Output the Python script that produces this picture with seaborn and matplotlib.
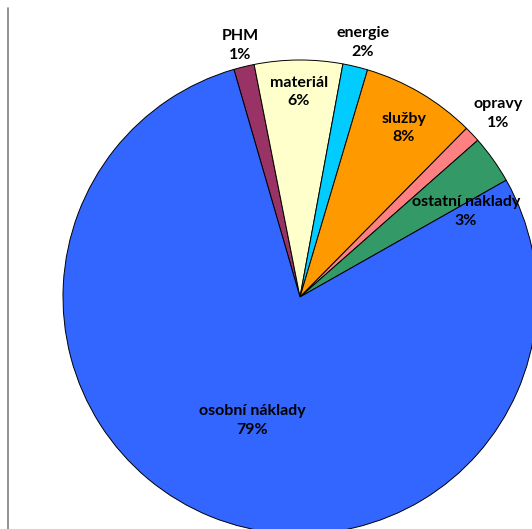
import numpy as np
import seaborn as sns
import matplotlib.pyplot as plt
from matplotlib.lines import Line2D

# cost structure - shares in percent, clockwise from PHM
categories = ["PHM", "materiál", "energie", "služby", "opravy", "ostatní náklady", "osobní náklady"]
shares = [1.4, 6.0, 1.7, 7.8, 1.1, 3.3, 78.7]
pct_labels = ["1%", "6%", "2%", "8%", "1%", "3%", "79%"]
colors = ["#993366", "#FFFFCC", "#00CCFF", "#FF9900", "#FF8080", "#339966", "#3366FF"]

# where each label sits, in pie radius units
label_pos = [(-0.253, 1.063), (-0.004, 0.865), (0.266, 1.072), (0.439, 0.713),
             (0.835, 0.776), (0.700, 0.359), (-0.203, -0.523)]

sns.set_theme(style="white")
plt.rcParams["font.family"] = ["Lato", "DejaVu Sans"]

W, H = 532, 529
fig = plt.figure(figsize=(W / 100, H / 100), dpi=100)
fig.patch.set_facecolor("white")

# pie centre at (300, 297) px, radius 237 px
R = 237
cx, cy = 300, H - 297
side = 2.5 * R
ax = fig.add_axes([(cx - side / 2) / W, (cy - side / 2) / H, side / W, side / H])

wedges, texts = ax.pie(shares, colors=colors, startangle=106.2, counterclock=False,
                       labels=[c + "\n" + p for c, p in zip(categories, pct_labels)],
                       labeldistance=0.5,
                       wedgeprops=dict(edgecolor="black", linewidth=0.7),
                       textprops=dict(fontsize=11.5, fontweight="bold", color="#000000",
                                      ha="center", va="center", linespacing=1.45))
for t, (x, y) in zip(texts, label_pos):
    t.set_position((x, y))
    t.set_horizontalalignment("center")
    t.set_verticalalignment("center")
    t.set_clip_on(False)

ax.set_xlim(-1.25, 1.25)
ax.set_ylim(-1.25, 1.25)

# left border line of the chart area
fig.add_artist(Line2D([7.5 / W, 7.5 / W], [0, (H - 8) / H], color="#808080", linewidth=1.2))

fig.savefig("out.png", dpi=100)
